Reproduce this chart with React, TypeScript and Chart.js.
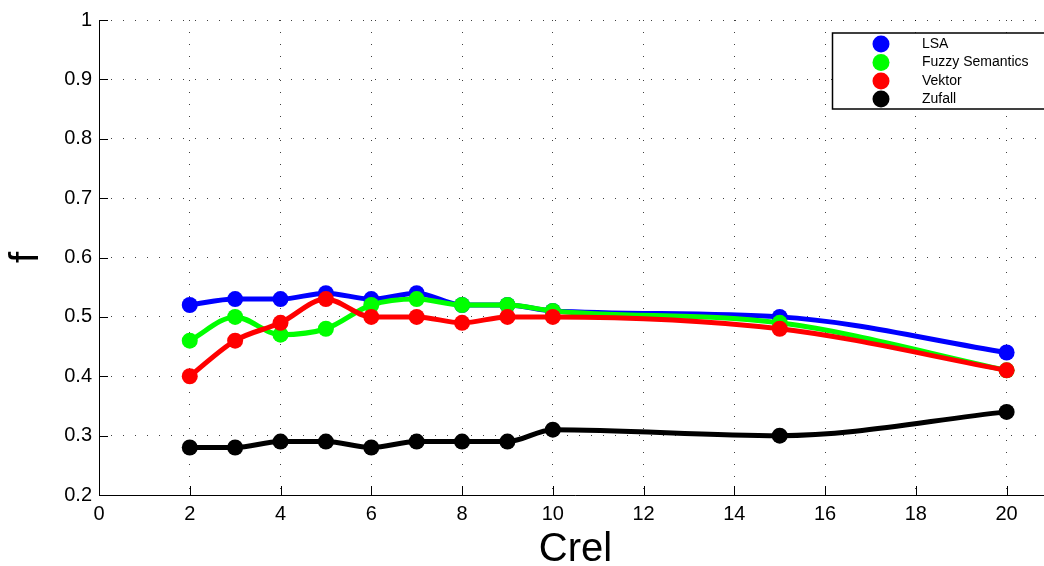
import React, { useEffect, useRef } from "react";
import { Chart, registerables } from "chart.js";

Chart.register(...registerables);

// ---- data ----
const crel = [2, 3, 4, 5, 6, 7, 8, 9, 10, 15, 20];
const lsa = [0.52, 0.53, 0.53, 0.54, 0.53, 0.54, 0.52, 0.52, 0.51, 0.5, 0.44];
const fuzzy = [0.46, 0.5, 0.47, 0.48, 0.52, 0.53, 0.52, 0.52, 0.51, 0.49, 0.41];
const vektor = [0.4, 0.46, 0.49, 0.53, 0.5, 0.5, 0.49, 0.5, 0.5, 0.48, 0.41];
const zufall = [0.28, 0.28, 0.29, 0.29, 0.28, 0.29, 0.29, 0.29, 0.31, 0.3, 0.34];
const seriesNames = ["LSA", "Fuzzy Semantics", "Vektor", "Zufall"];
const seriesValues = [lsa, fuzzy, vektor, zufall];
const seriesColors = ["#0000ff", "#00ff00", "#ff0000", "#000000"];
const xTicks = [0, 2, 4, 6, 8, 10, 12, 14, 16, 18, 20];
const yTicks = [0.2, 0.3, 0.4, 0.5, 0.6, 0.7, 0.8, 0.9, 1];
const xTitle = "Crel";
const yTitle = "f";

const FONT = "'Liberation Sans', Arial, Helvetica, sans-serif";

const tickMarks = {
  id: "tickMarks",
  afterDraw(chart: any) {
    const { ctx, chartArea, scales } = chart;
    const x = scales.x;
    const y = scales.y;
    ctx.save();
    ctx.strokeStyle = "#000";
    ctx.lineWidth = 1;
    xTicks.forEach((v) => {
      const px = Math.round(x.getPixelForValue(v)) + 0.5;
      ctx.beginPath();
      ctx.moveTo(px, chartArea.bottom);
      ctx.lineTo(px, chartArea.bottom - 9);
      ctx.stroke();
    });
    yTicks.forEach((v) => {
      const py = Math.round(y.getPixelForValue(v)) + 0.5;
      ctx.beginPath();
      ctx.moveTo(chartArea.left, py);
      ctx.lineTo(chartArea.left + 9, py);
      ctx.stroke();
    });
    // solid axis lines (left and bottom)
    ctx.beginPath();
    ctx.moveTo(Math.round(chartArea.left) + 0.5, chartArea.top);
    ctx.lineTo(Math.round(chartArea.left) + 0.5, Math.round(chartArea.bottom) + 0.5);
    ctx.lineTo(chartArea.right, Math.round(chartArea.bottom) + 0.5);
    ctx.stroke();
    ctx.restore();
  },
};

const boxLegend = {
  id: "boxLegend",
  afterDraw(chart: any) {
    const { ctx } = chart;
    const left = 832.5;
    const top = 33;
    const bottom = 109;
    const right = 1052;
    ctx.save();
    ctx.fillStyle = "#fff";
    ctx.fillRect(left, top, right - left, bottom - top);
    ctx.strokeStyle = "#000";
    ctx.lineWidth = 1.5;
    ctx.strokeRect(left, top, right - left, bottom - top);
    const rows = [44, 62.5, 81, 99];
    ctx.font = `14px ${FONT}`;
    ctx.textBaseline = "middle";
    ctx.textAlign = "left";
    chart.data.datasets.forEach((ds: any, i: number) => {
      ctx.beginPath();
      ctx.fillStyle = ds.backgroundColor;
      ctx.arc(881, rows[i], 8.5, 0, Math.PI * 2);
      ctx.fill();
      ctx.fillStyle = "#000";
      ctx.fillText(ds.label, 922, rows[i]);
    });
    ctx.restore();
  },
};

export default function App() {
  const ref = useRef<HTMLCanvasElement | null>(null);

  useEffect(() => {
    if (!ref.current) return;
    const datasets = seriesNames.map((name, i) => ({
      label: name,
      data: crel.map((c, j) => ({ x: c, y: seriesValues[i][j] })),
      borderColor: seriesColors[i],
      backgroundColor: seriesColors[i],
      pointBackgroundColor: seriesColors[i],
      pointBorderWidth: 0,
      pointRadius: 8,
      borderWidth: 5,
      cubicInterpolationMode: "monotone" as const,
      order: seriesNames.length - i,
    }));
    const gridCommon = {
      color: "rgba(0,0,0,0.75)",
      lineWidth: 1,
      drawTicks: false,
    };
    const chart = new Chart(ref.current, {
      type: "line",
      data: { datasets },
      plugins: [tickMarks, boxLegend],
      options: {
        animation: false,
        responsive: false,
        devicePixelRatio: 1,
        layout: { padding: { top: 20, right: 0, left: 0, bottom: 0 } },
        plugins: { legend: { display: false }, tooltip: { enabled: false } },
        scales: {
          x: {
            type: "linear",
            min: 0,
            max: 21,
            afterBuildTicks: (s: any) => {
              s.ticks = xTicks.map((v) => ({ value: v }));
            },
            afterFit: (s: any) => {
              s.height = 71;
            },
            ticks: {
              color: "#000",
              font: { family: FONT, size: 20 },
              padding: 7,
              maxRotation: 0,
              autoSkip: false,
              callback: (v: any) => String(v),
            },
            grid: gridCommon as any,
            border: { display: false, dash: [1, 11] } as any,
            title: {
              display: true,
              text: xTitle,
              color: "#000",
              font: { family: FONT, size: 40 },
              padding: { top: 0, bottom: -8 },
            },
          },
          y: {
            type: "linear",
            min: 0.2,
            max: 1,
            afterBuildTicks: (s: any) => {
              s.ticks = yTicks.map((v) => ({ value: v }));
            },
            afterFit: (s: any) => {
              s.width = 99;
            },
            ticks: {
              color: "#000",
              font: { family: FONT, size: 20 },
              padding: 7,
              autoSkip: false,
              callback: (v: any) => String(Number(Number(v).toFixed(1))),
            },
            grid: gridCommon as any,
            border: { display: false, dash: [1, 11] } as any,
            title: {
              display: true,
              text: yTitle,
              color: "#000",
              font: { family: FONT, size: 40 },
              padding: { top: 3, bottom: 0 },
            },
          },
        },
      } as any,
    });
    return () => chart.destroy();
  }, []);

  return (
    <div
      style={{
        position: "fixed",
        left: 0,
        top: 0,
        width: 1044,
        height: 566,
        overflow: "hidden",
        background: "#fff",
      }}
    >
      <canvas
        ref={ref}
        width={1060}
        height={566}
        style={{ width: 1060, height: 566, display: "block" }}
      />
    </div>
  );
}
